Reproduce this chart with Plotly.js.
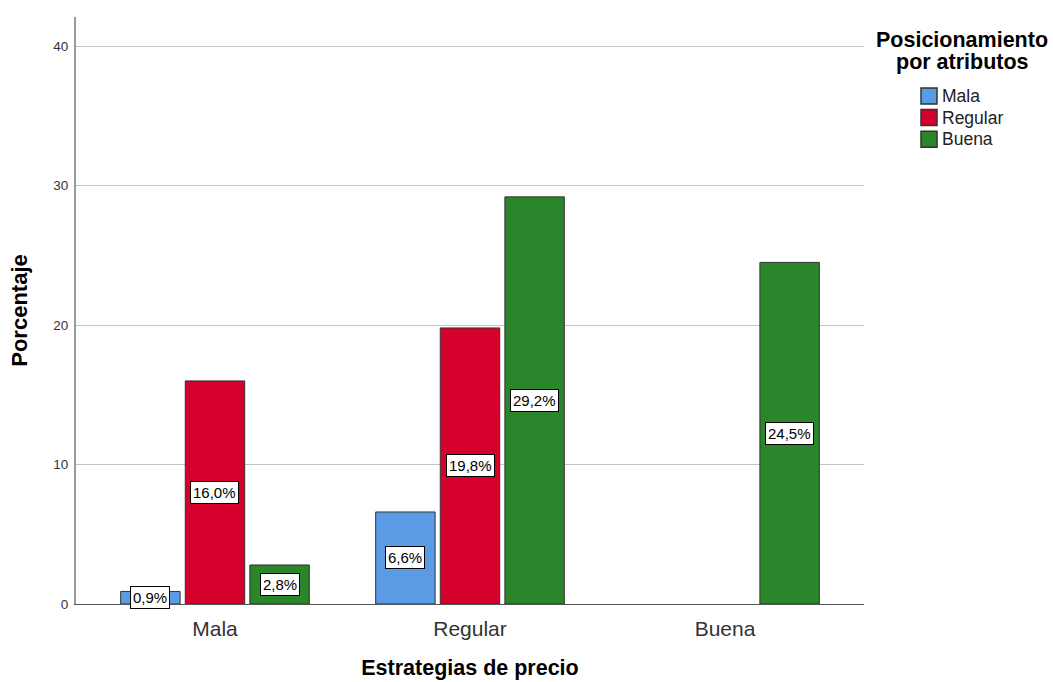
<!DOCTYPE html>
<html>
<head>
<meta charset="utf-8">
<script src="https://cdn.plot.ly/plotly-3.0.1.min.js"></script>
<style>
  html, body { margin: 0; padding: 0; background: #fff; }
  #chart { width: 1053px; height: 682px; }
</style>
</head>
<body>
<div id="chart"></div>
<script>
// Estrategias de precio (x categories) grouped by Posicionamiento por atributos
const categories = ["Mala", "Regular", "Buena"];
const seriesNames = ["Mala", "Regular", "Buena"];
const valuesMala = [0.9, 6.6, null];
const valuesRegular = [16.0, 19.8, null];
const valuesBuena = [2.8, 29.2, 24.5];
const seriesColors = ["#5b9be6", "#d6002d", "#2b852b"];
const yTicks = [0, 10, 20, 30, 40];
const legendTitle = ["Posicionamiento", "por atributos"];

const seriesValues = [valuesMala, valuesRegular, valuesBuena];
const font = "Liberation Sans, Arial, sans-serif";
const W = 1053, H = 682;
const M = { l: 76, r: 189, t: 17, b: 78 };
const plotW = W - M.l - M.r, plotH = H - M.t - M.b;
// pixel position -> paper coordinates (used for the legend block on the right)
const px2x = px => (px - M.l) / plotW;
const px2y = py => 1 - (py - M.t) / plotH;

const bargap = 0.24;
const slot = (1 - bargap) / seriesValues.length;

const traces = seriesValues.map((vals, i) => ({
  type: "bar",
  name: seriesNames[i],
  x: categories,
  y: vals,
  marker: { color: seriesColors[i], line: { color: "#333333", width: 1 } },
  hoverinfo: "skip",
  showlegend: false
}));

// value labels in white boxes at the middle of each bar
const fmt = v => v.toFixed(1).replace(".", ",") + "%";
const annotations = [];
seriesValues.forEach((vals, i) => {
  vals.forEach((v, c) => {
    if (v === null) return;
    annotations.push({
      xref: "x", yref: "y",
      x: c + (i - (seriesValues.length - 1) / 2) * slot,
      y: v / 2,
      text: fmt(v),
      showarrow: false,
      font: { family: font, size: 15, color: "#000" },
      bgcolor: "#ffffff",
      bordercolor: "#000000",
      borderwidth: 1,
      borderpad: 2
    });
  });
});

// legend block: heading, colour swatches and series names
const shapes = [];
legendTitle.forEach((line, k) => {
  annotations.push({
    xref: "paper", yref: "paper",
    x: px2x(962), y: px2y(40 + k * 22),
    xanchor: "center", yanchor: "middle",
    text: "<b>" + line + "</b>",
    showarrow: false,
    font: { family: font, size: 21.5, color: "#000" }
  });
});
seriesNames.forEach((name, i) => {
  const top = 88 + i * 21.6;
  shapes.push({
    type: "rect", xref: "paper", yref: "paper",
    x0: px2x(921), x1: px2x(937),
    y0: px2y(top), y1: px2y(top + 16),
    fillcolor: seriesColors[i],
    line: { color: "#333333", width: 1.5 }
  });
  annotations.push({
    xref: "paper", yref: "paper",
    x: px2x(940), y: px2y(top + 8),
    xanchor: "left", yanchor: "middle",
    text: name,
    showarrow: false,
    font: { family: font, size: 17.5, color: "#222" }
  });
});

const layout = {
  width: W, height: H,
  margin: M,
  paper_bgcolor: "#ffffff",
  plot_bgcolor: "#ffffff",
  barmode: "group",
  bargap: bargap,
  bargroupgap: 0.08,
  font: { family: font, color: "#222" },
  showlegend: false,
  xaxis: {
    type: "category",
    range: [-0.545, 2.545],
    showgrid: false,
    showline: true,
    linecolor: "#555555",
    linewidth: 1,
    ticks: "",
    ticklabelstandoff: 6,
    tickfont: { family: font, size: 21, color: "#333" },
    title: {
      text: "<b>Estrategias de precio</b>",
      font: { family: font, size: 21.5, color: "#000" },
      standoff: 20
    },
    fixedrange: true
  },
  yaxis: {
    range: [0, 42.1],
    tickvals: yTicks,
    ticktext: yTicks.map(String),
    showgrid: true,
    gridcolor: "#c4c4c4",
    gridwidth: 1,
    zeroline: false,
    showline: true,
    linecolor: "#9a9a9a",
    linewidth: 2,
    ticks: "",
    ticklabelstandoff: 3,
    tickfont: { family: font, size: 13.5, color: "#333" },
    title: {
      text: "<b>Porcentaje</b>",
      font: { family: font, size: 22, color: "#000" },
      standoff: 20
    },
    fixedrange: true
  },
  shapes: shapes,
  annotations: annotations
};

Plotly.newPlot("chart", traces, layout, { displayModeBar: false, staticPlot: true });
</script>
</body>
</html>
